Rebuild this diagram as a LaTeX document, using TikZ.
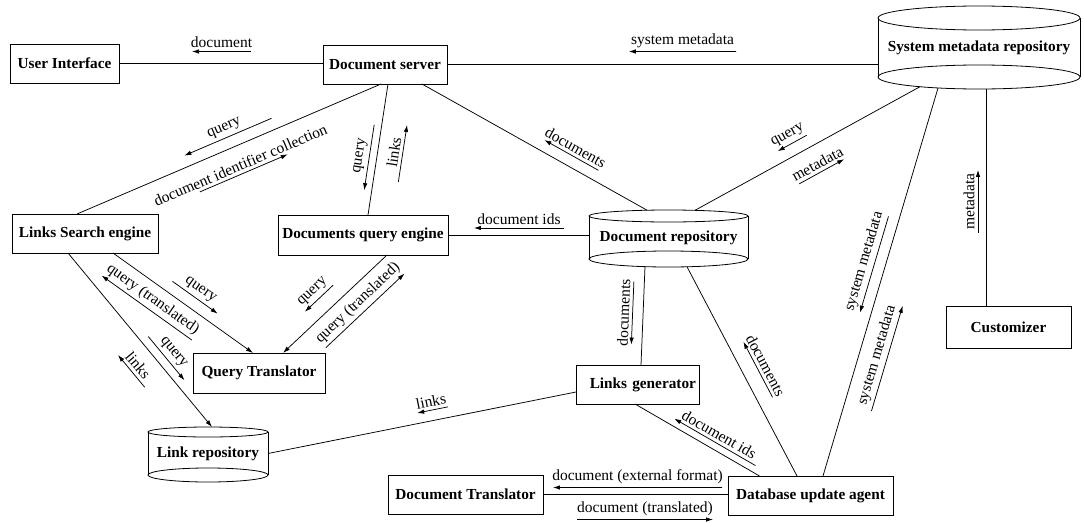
\documentclass[tikz,border=0pt]{standalone}
\usepackage{fontspec}
\setmainfont{Liberation Serif}
\usetikzlibrary{calc,arrows.meta}
\tikzset{
  box/.style={draw, line width=0.8pt, rectangle, inner sep=0pt, outer sep=0pt, font=\bfseries\fontsize{15.3}{17}\selectfont},
  cylnode/.style={rectangle, inner sep=0pt, outer sep=0pt, font=\bfseries\fontsize{15.3}{17}\selectfont},
  cylline/.style={line width=0.8pt},
  conn/.style={line width=0.75pt},
  tipped/.style={-{Latex[length=7pt,width=4.5pt]}},
  larr/.style={line width=0.75pt, -{Latex[length=7pt,width=4.5pt]}},
  ltext/.style={midway, sloped, above, inner sep=3pt, font=\fontsize{15.5}{17}\selectfont}
}
\newcommand\flowlabel[6]{\draw[larr] ($(#1)!#3!(#2)!#5!90:(#2)$) -- ($(#1)!#4!(#2)!#5!90:(#2)$) node[ltext]{#6};}
\newcommand\cylshape[4]{%
  \draw[cylline] (#1.north west) -- (#1.south west) (#1.north east) -- (#1.south east);
  \draw[cylline] (#1.north) ellipse [x radius=#2pt, y radius=#3pt];
  \draw[cylline] (#1.south) ellipse [x radius=#2pt, y radius=#4pt];}
\begin{document}
\begin{tikzpicture}[x=1pt,y=-1pt]
\useasboundingbox (0,0) rectangle (1084,522);
% boxes
\node[box, minimum width=109pt, minimum height=39pt] (UI) at (64.5,63.5) {User Interface};
\node[box, minimum width=124pt, minimum height=39pt] (DS) at (385,64.5) {Document server};
\node[box, minimum width=146pt, minimum height=39pt] (LSE) at (85,233.5) {Links Search engine};
\node[box, minimum width=170pt, minimum height=40pt] (DQE) at (363,235) {Documents query engine};
\node[box, minimum width=132pt, minimum height=40pt] (QT) at (259,373) {Query Translator};
\node[box, minimum width=123pt, minimum height=39pt, text width=117pt, align=right] (LG) at (637.5,384.5) {Links generator};
\node[box, minimum width=125pt, minimum height=42pt] (Cust) at (1008.5,327) {Customizer};
\node[box, minimum width=155pt, minimum height=39pt] (DT) at (465.5,494.5) {Document Translator};
\node[box, minimum width=165pt, minimum height=39pt] (DUA) at (810.5,495.5) {Database update agent};
% cylinders
\node[cylnode, minimum width=202pt, minimum height=59pt] (SMR) at (979,47.5) {System metadata repository};
\node[cylnode, minimum width=159pt, minimum height=43pt] (DR) at (668.5,237.5) {Document repository};
\node[cylnode, minimum width=120pt, minimum height=43pt] (LR) at (208,453.5) {Link repository};
\cylshape{SMR}{101}{12}{12}
\cylshape{DR}{79.5}{6}{8}
\cylshape{LR}{60}{5}{7}
% connector end points
\coordinate (l1a) at (UI.east);
\coordinate (l1b) at (UI.east -| DS.west);
\coordinate (l2a) at (DS.east);
\coordinate (l2b) at (DS.east -| SMR.west);
\coordinate (l3a) at ([xshift=-4pt]DS.south);
\coordinate (l3b) at ([xshift=-8pt]LSE.north);
\coordinate (l4a) at ([xshift=3pt]DS.south);
\coordinate (l4b) at ([xshift=5pt]DQE.north);
\coordinate (l5a) at ([xshift=37pt]DS.south);
\coordinate (l5b) at ([xshift=-21.5pt,yshift=5.8pt]DR.north);
\coordinate (l6a) at ([xshift=-59pt,yshift=-9.7pt]SMR.south);
\coordinate (l6b) at ([xshift=26.5pt,yshift=5.7pt]DR.north);
\coordinate (l7a) at ([xshift=-41pt,yshift=-11pt]SMR.south);
\coordinate (l7b) at ([xshift=12.5pt]DUA.north);
\coordinate (l8a) at ([xshift=7pt,yshift=-12pt]SMR.south);
\coordinate (l8b) at (l8a |- Cust.north);
\coordinate (l9a) at (DQE.east);
\coordinate (l9b) at (DQE.east -| DR.west);
\coordinate (l10a) at ([xshift=28pt]LSE.south);
\coordinate (l10b) at ([xshift=-6pt]QT.north);
\coordinate (l11a) at ([xshift=24pt]DQE.south);
\coordinate (l11b) at ([xshift=24pt]QT.north);
\coordinate (l12a) at ([xshift=-17pt]LSE.south);
\coordinate (l12b) at ([xshift=4pt,yshift=5pt]LR.north);
\coordinate (l13a) at ([xshift=-23.5pt,yshift=-7.6pt]DR.south);
\coordinate (l13b) at ([xshift=3.5pt]LG.north);
\coordinate (l14a) at ([yshift=-7.5pt]LG.west);
\coordinate (l14b) at (LR.east);
\coordinate (l15a) at ([xshift=18.5pt,yshift=-7.8pt]DR.south);
\coordinate (l15b) at ([xshift=-13.5pt]DUA.north);
\coordinate (l16a) at ([xshift=-2.5pt]LG.south);
\coordinate (l16b) at ([xshift=-51pt]DUA.north);
\coordinate (l17a) at (DT.east);
\coordinate (l17b) at (DT.east -| DUA.west);
% connectors
\draw[conn] (l1a) -- (l1b);
\draw[conn] (l2a) -- (l2b);
\draw[conn] (l3a) -- (l3b);
\draw[conn] (l4a) -- (l4b);
\draw[conn] (l5a) -- (l5b);
\draw[conn] (l6a) -- (l6b);
\draw[conn] (l7a) -- (l7b);
\draw[conn] (l8a) -- (l8b);
\draw[conn] (l9a) -- (l9b);
\draw[conn,tipped] (l10a) -- (l10b);
\draw[conn,tipped] (l11a) -- (l11b);
\draw[conn,tipped] (l12a) -- (l12b);
\draw[conn] (l13a) -- (l13b);
\draw[conn] (l14a) -- (l14b);
\draw[conn] (l15a) -- (l15b);
\draw[conn] (l16a) -- (l16b);
\draw[conn] (l17a) -- (l17b);
% flow labels
\flowlabel{l1a}{l1b}{0.647}{0.358}{12pt}{document}
\flowlabel{l2a}{l2b}{0.671}{0.422}{13pt}{system metadata}
\flowlabel{l3a}{l3b}{0.345}{0.632}{-11.5pt}{query}
\flowlabel{l3a}{l3b}{0.632}{0.343}{28pt}{document identifier collection}
\flowlabel{l4a}{l4b}{0.321}{0.819}{-7.5pt}{query}
\flowlabel{l4a}{l4b}{0.72}{0.284}{25pt}{links}
\flowlabel{l5a}{l5b}{0.76}{0.52}{11pt}{documents}
\flowlabel{l6a}{l6b}{0.478}{0.607}{-12pt}{query}
\flowlabel{l6a}{l6b}{0.595}{0.395}{27pt}{metadata}
\flowlabel{l7a}{l7b}{0.339}{0.587}{-11pt}{system metadata}
\flowlabel{l7a}{l7b}{0.812}{0.541}{28pt}{system metadata}
\flowlabel{l8a}{l8b}{0.664}{0.373}{-8pt}{metadata}
\flowlabel{l9a}{l9b}{0.823}{0.184}{7pt}{document ids}
\flowlabel{l10a}{l10b}{0.668}{0.022}{-25pt}{query (translated)}
\flowlabel{l10a}{l10b}{0.377}{0.70}{11.5pt}{query}
\flowlabel{l11a}{l11b}{0.419}{0.691}{-15pt}{query}
\flowlabel{l11a}{l11b}{0.757}{0.0}{25.5pt}{query (translated)}
\flowlabel{l12a}{l12b}{0.512}{0.763}{8.6pt}{query}
\flowlabel{l12a}{l12b}{0.674}{0.489}{-26.5pt}{links}
\flowlabel{l13a}{l13b}{0.156}{0.797}{-10.5pt}{documents}
\flowlabel{l14a}{l14b}{0.409}{0.509}{-10.5pt}{links}
\flowlabel{l15a}{l15b}{0.657}{0.392}{15pt}{documents}
\flowlabel{l16a}{l16b}{0.94}{0.287}{7pt}{document ids}
\flowlabel{l17a}{l17b}{0.968}{0.054}{7pt}{document (external format)}
\flowlabel{l17a}{l17b}{0.184}{0.919}{-25pt}{document (translated)}
\end{tikzpicture}
\end{document}
